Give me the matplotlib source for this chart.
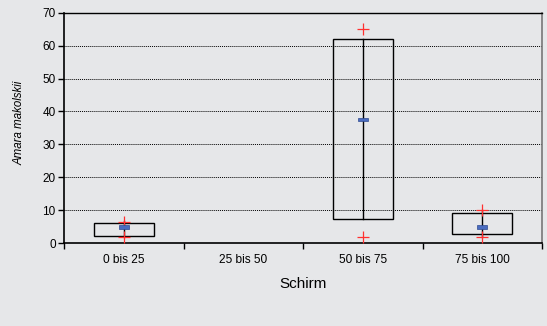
import matplotlib

matplotlib.use("Agg")

import matplotlib.pyplot as plt
import numpy as np

plt.rcParams["font.family"] = ["Liberation Sans", "DejaVu Sans"]

categories = ["0 bis 25", "25 bis 50", "50 bis 75", "75 bis 100"]
box_low = [2.1, np.nan, 7.4, 2.7]
box_high = [6.0, np.nan, 62.0, 9.0]
line_low = [1.8, np.nan, 7.4, 1.9]
line_high = [6.8, np.nan, 62.0, 10.0]
mean_vals = [4.9, np.nan, 37.5, 4.9]
max_vals = [6.5, np.nan, 65.0, 10.0]
min_vals = [1.8, np.nan, 1.9, 1.9]

bg = "#e6e7e9"
fig = plt.figure(figsize=(5.47, 3.26), dpi=100, facecolor=bg)
ax = fig.add_axes([0.117, 0.2546, 0.874, 0.706], facecolor=bg)

x = np.arange(len(categories))
for xi, lo, hi, llo, lhi in zip(x, box_low, box_high, line_low, line_high):
    if np.isnan(lo):
        continue
    ax.add_patch(plt.Rectangle((xi - 0.25, lo), 0.5, hi - lo, fill=False,
                               edgecolor="black", linewidth=1.0, zorder=3))
    ax.plot([xi, xi], [llo, lhi], color="black", linewidth=1.0, zorder=3)

ax.plot(x, max_vals, linestyle="none", marker="+", color="#ff3030",
        markersize=8, markeredgewidth=0.9, zorder=5)
ax.plot(x, min_vals, linestyle="none", marker="+", color="#ff3030",
        markersize=8, markeredgewidth=0.9, zorder=5)
for xi, m in zip(x, mean_vals):
    if np.isnan(m):
        continue
    ax.add_patch(plt.Rectangle((xi - 0.042, m - 0.5), 0.084, 1.0,
                               facecolor="#4a6cc0", edgecolor="#2f4a90",
                               linewidth=0.5, zorder=6))

ax.set_xlim(-0.5, 3.5)
ax.set_ylim(0, 70)
ax.set_yticks(np.arange(0, 71, 10))
ax.set_xticks(x)
ax.set_xticklabels(categories, fontsize=8.6)
ax.set_xticks(np.arange(-0.5, 3.6, 1), minor=True)
ax.tick_params(axis="x", which="major", length=0, pad=8)
ax.tick_params(axis="x", which="minor", length=4, width=1, direction="out")
ax.tick_params(axis="y", labelsize=8.5, length=4, width=1, direction="out", pad=2)

for y in range(10, 70, 10):
    ax.axhline(y, color="black", linestyle=(0, (1, 1)), linewidth=0.7, zorder=1)

for side in ["left", "bottom", "top"]:
    ax.spines[side].set_color("black")
ax.spines["left"].set_linewidth(1.2)
ax.spines["bottom"].set_linewidth(1.2)
ax.spines["top"].set_linewidth(1.0)
ax.spines["right"].set_color("#777777")
ax.spines["right"].set_linewidth(1.2)

ax.set_xlabel("Schirm", fontsize=11, labelpad=8)
ax.set_ylabel("Amara makolskii", fontsize=8.3, style="italic")
ax.yaxis.set_label_coords(-0.081, 0.52)

fig.savefig("out.png", dpi=100, facecolor=bg)
